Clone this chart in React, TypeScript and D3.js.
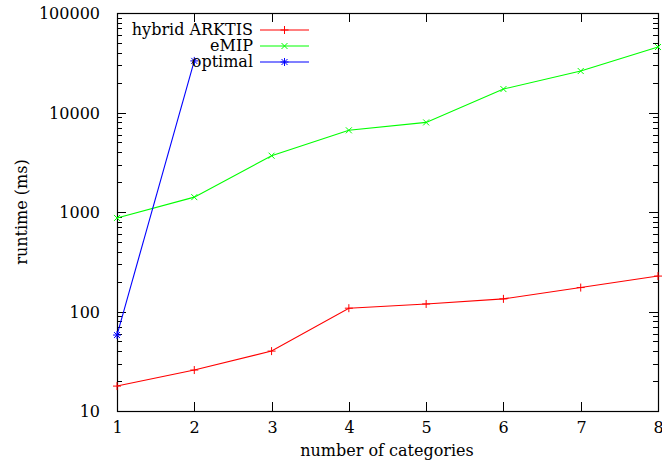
import React, { useEffect, useRef } from 'react';
import * as d3 from 'd3';

const categories = [1, 2, 3, 4, 5, 6, 7, 8];
const hybridArktis = [17.8, 25.8, 40, 108, 119, 134, 174, 227];
const emip = [871, 1410, 3680, 6620, 7950, 17200, 26100, 45500];
const optimal = [58, 33000];
const yTickValues = [10, 100, 1000, 10000, 100000];

const W = 662;
const H = 468;

export default function App() {
  const svgRef = useRef<SVGSVGElement>(null);

  useEffect(() => {
    if (!svgRef.current) return;
    const svg = d3.select(svgRef.current);
    svg.selectAll('*').remove();

    const m = { left: 117, right: 658, top: 13, bottom: 411 };
    const x = d3.scaleLinear().domain([1, 8]).range([m.left, m.right]);
    const y = d3.scaleLog().domain([10, 100000]).range([m.bottom, m.top]);

    const g = svg.append('g')
      .style('font-family', "'DejaVu Serif', 'Liberation Serif', 'Times New Roman', serif")
      .style('font-size', '16px');

    // minor ticks (log)
    const minors: number[] = [];
    for (let d = 10; d < 100000; d *= 10) {
      for (let k = 2; k <= 9; k++) minors.push(d * k);
    }
    minors.forEach(v => {
      const yy = Math.round(y(v)) + 0.5;
      g.append('line').attr('x1', m.left).attr('x2', m.left + 5).attr('y1', yy).attr('y2', yy)
        .attr('stroke', '#000').attr('stroke-width', 1);
      g.append('line').attr('x1', m.right).attr('x2', m.right - 5).attr('y1', yy).attr('y2', yy)
        .attr('stroke', '#000').attr('stroke-width', 1);
    });

    // major y ticks + labels
    yTickValues.forEach(v => {
      const yy = Math.round(y(v)) + 0.5;
      g.append('line').attr('x1', m.left).attr('x2', m.left + 9).attr('y1', yy).attr('y2', yy)
        .attr('stroke', '#000');
      g.append('line').attr('x1', m.right).attr('x2', m.right - 9).attr('y1', yy).attr('y2', yy)
        .attr('stroke', '#000');
      g.append('text').attr('x', 100).attr('y', yy).attr('dy', '0.33em')
        .attr('text-anchor', 'end').text(String(v));
    });

    // x ticks + labels
    categories.forEach(c => {
      const xx = Math.round(x(c)) + 0.5;
      g.append('line').attr('x1', xx).attr('x2', xx).attr('y1', m.bottom).attr('y2', m.bottom - 9)
        .attr('stroke', '#000');
      g.append('line').attr('x1', xx).attr('x2', xx).attr('y1', m.top).attr('y2', m.top + 9)
        .attr('stroke', '#000');
      g.append('text').attr('x', xx).attr('y', 433).attr('text-anchor', 'middle').text(String(c));
    });

    // frame
    g.append('rect').attr('x', m.left + 0.5).attr('y', m.top + 0.5)
      .attr('width', m.right - m.left).attr('height', m.bottom - m.top)
      .attr('fill', 'none').attr('stroke', '#000').attr('stroke-width', 1.2);

    // axis titles
    g.append('text').attr('x', 387).attr('y', 456).attr('text-anchor', 'middle')
      .text('number of categories');
    g.append('text').attr('transform', 'translate(27,212) rotate(-90)').attr('text-anchor', 'middle')
      .text('runtime (ms)');

    const marker = (sel: any, type: string, cx: number, cy: number, color: string) => {
      const s = 4;
      const path = d3.path();
      if (type === 'plus' || type === 'star') {
        path.moveTo(cx - s, cy); path.lineTo(cx + s, cy);
        path.moveTo(cx, cy - s); path.lineTo(cx, cy + s);
      }
      if (type === 'cross' || type === 'star') {
        const t = s * 0.75;
        path.moveTo(cx - t, cy - t); path.lineTo(cx + t, cy + t);
        path.moveTo(cx - t, cy + t); path.lineTo(cx + t, cy - t);
      }
      sel.append('path').attr('d', path.toString()).attr('stroke', color)
        .attr('stroke-width', 1).attr('fill', 'none');
    };

    const series = [
      { name: 'hybrid ARKTIS', values: hybridArktis, color: '#ff0000', mk: 'plus' },
      { name: 'eMIP', values: emip, color: '#00ff00', mk: 'cross' },
      { name: 'optimal', values: optimal, color: '#0000ff', mk: 'star' },
    ];

    const line = d3.line<number>()
      .x((_, i) => x(categories[i]))
      .y(d => y(d));

    const plot = g.append('g');
    series.forEach((s, si) => {
      plot.append('path').datum(s.values).attr('d', line).attr('fill', 'none')
        .attr('stroke', s.color).attr('stroke-width', 1.1);
      s.values.forEach((v, i) => marker(plot, s.mk, x(categories[i]), y(v), s.color));

      // legend
      const ly = 30 + si * 16;
      g.append('text').attr('x', 253).attr('y', ly).attr('dy', '0.33em').attr('text-anchor', 'end')
        .text(s.name);
      g.append('line').attr('x1', 260).attr('x2', 309).attr('y1', ly).attr('y2', ly)
        .attr('stroke', s.color).attr('stroke-width', 1.1);
      marker(g, s.mk, 284.5, ly, s.color);
    });
  }, []);

  return (
    <svg ref={svgRef} width={W} height={H}
      style={{ position: 'absolute', left: 0, top: 0, background: '#fff', display: 'block' }} />
  );
}
